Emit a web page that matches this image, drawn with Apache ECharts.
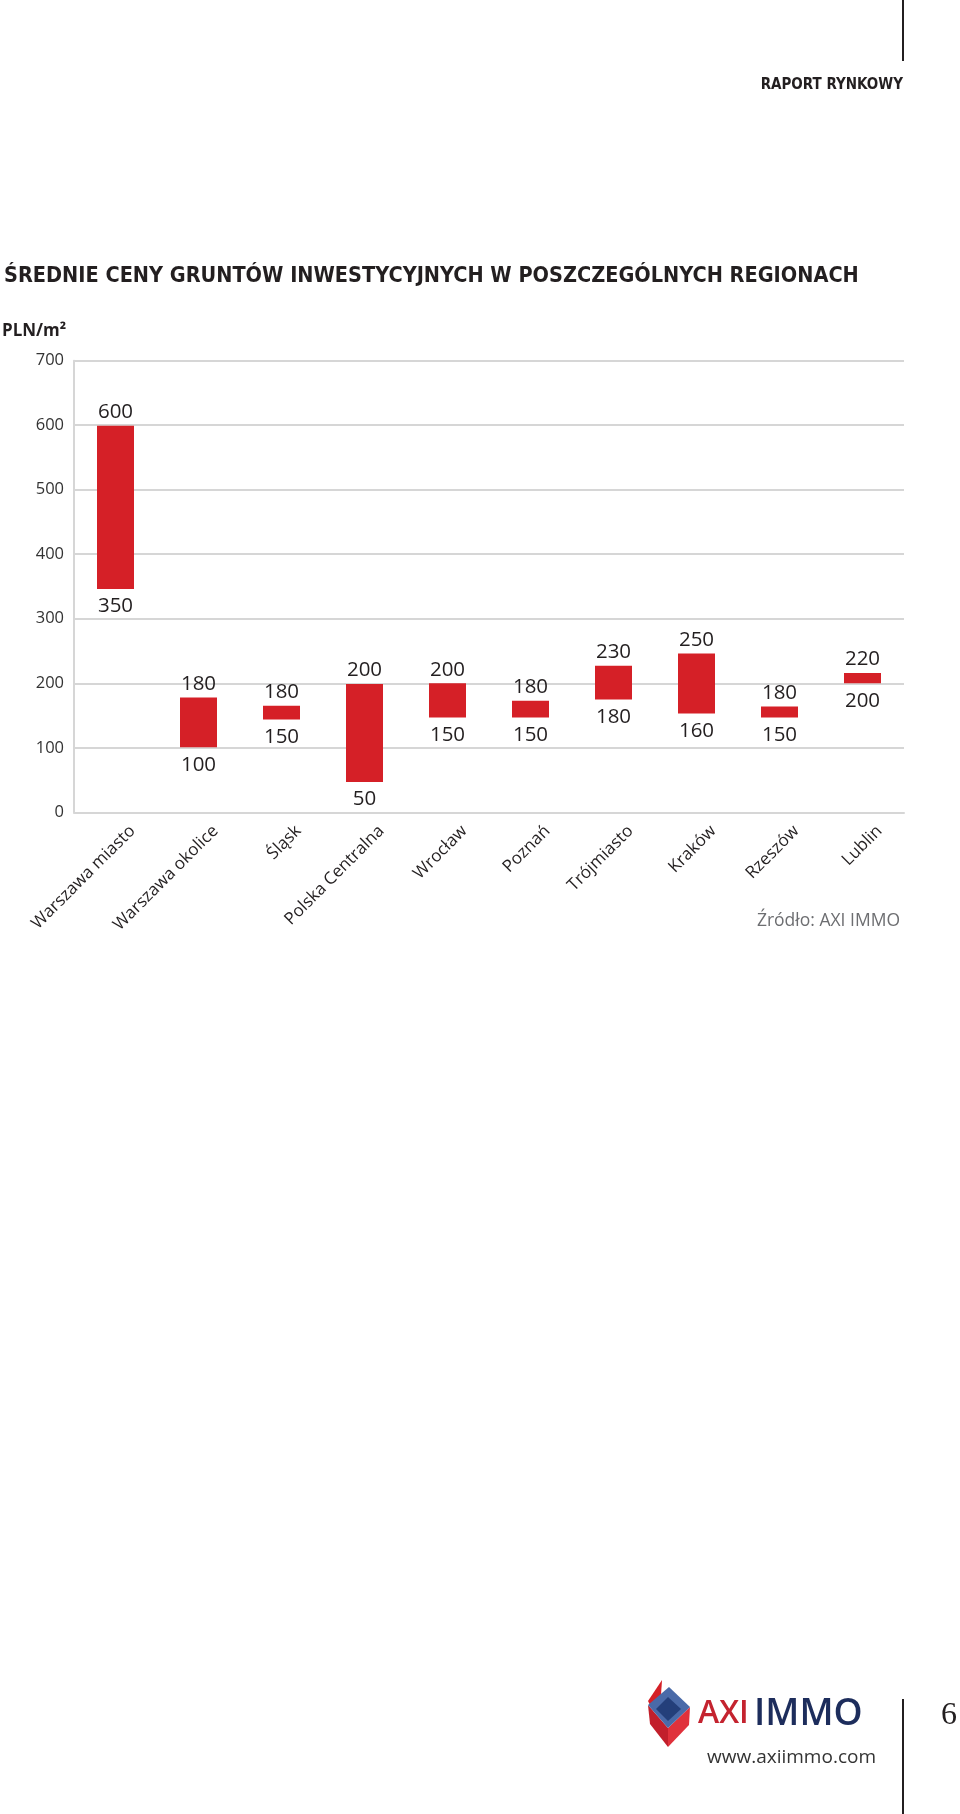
<!DOCTYPE html>
<html><head><meta charset="utf-8">
<script src="https://cdn.jsdelivr.net/npm/echarts@6/dist/echarts.min.js"></script>
<style>html,body{margin:0;padding:0;background:#fff}#c{width:960px;height:1814px}</style>
</head><body><div id="c"></div>
<script>
// --- data ---
const categories = ['Warszawa miasto','Warszawa okolice','Śląsk','Polska Centralna','Wrocław','Poznań','Trójmiasto','Kraków','Rzeszów','Lublin'];
// bar extents as drawn in the reference (PLN/m²)
const barLow  = [346, 101, 144,  47, 147, 147, 175, 153, 147, 200];
const barHigh = [599, 178, 165, 199, 200, 173, 227, 246, 164, 216];
// printed value labels
const labelLow  = [350, 100, 150,  50, 150, 150, 180, 160, 150, 200];
const labelHigh = [600, 180, 180, 200, 200, 180, 230, 250, 180, 220];
const yMin = 0, yMax = 700, yStep = 100;

const RED = '#d52027', INK = '#231f20', GRID = '#d6d6d6';
const SANS = "'Open Sans', 'Noto Sans', sans-serif";
const COND = "'Liberation Sans Narrow', 'DejaVu Sans Condensed', 'Roboto Condensed', 'Noto Sans', sans-serif";

const rangeData = barHigh.map((h, i) => h - barLow[i]);

const chart = echarts.init(document.getElementById('c'), null, {renderer: 'canvas'});
chart.setOption({
  animation: false,
  backgroundColor: '#fff',
  title: {
    text: 'ŚREDNIE CENY GRUNTÓW INWESTYCYJNYCH W POSZCZEGÓLNYCH REGIONACH',
    left: 4, top: 265, padding: 0,
    textStyle: {fontFamily: COND, fontWeight: 'bold', fontSize: 21.5, color: INK}
  },
  grid: {left: 74, right: 56, top: 360.67, bottom: 1001.67, containLabel: false},
  xAxis: {
    type: 'category', data: categories,
    axisTick: {show: false},
    axisLine: {lineStyle: {color: GRID, width: 2}},
    axisLabel: {rotate: 45, interval: 0, fontSize: 17, color: INK, fontFamily: SANS,
      margin: 33, padding: [0, -24, 0, 0]}
  },
  yAxis: {
    type: 'value', min: yMin, max: yMax, interval: yStep,
    axisLine: {show: true, lineStyle: {color: GRID, width: 2}},
    axisTick: {show: false},
    splitLine: {lineStyle: {color: GRID, width: 2}},
    axisLabel: {fontSize: 16.5, color: '#333', fontFamily: SANS, margin: 10}
  },
  series: [
    {
      name: 'base', type: 'bar', stack: 'r', data: barLow, barWidth: 37,
      itemStyle: {color: 'rgba(0,0,0,0)'},
      label: {show: true, position: 'insideTop', distance: 7, fontSize: 20.5, color: INK, fontFamily: SANS,
        formatter: p => String(labelLow[p.dataIndex])},
      silent: true
    },
    {
      name: 'Cena PLN/m²', type: 'bar', stack: 'r', data: rangeData, barWidth: 37,
      itemStyle: {color: RED},
      label: {show: true, position: 'top', distance: 3, fontSize: 20.5, color: INK, fontFamily: SANS,
        formatter: p => String(labelHigh[p.dataIndex])}
    }
  ],
  graphic: [
    {type: 'line', shape: {x1: 903, y1: 0, x2: 903, y2: 61}, style: {stroke: INK, lineWidth: 2}},
    {type: 'text', x: 903, y: 85, style: {text: 'RAPORT RYNKOWY', textAlign: 'right', textVerticalAlign: 'middle',
      font: "bold 15px " + COND, fill: INK}},
    {type: 'text', x: 2, y: 331, style: {text: 'PLN/m²', textAlign: 'left', textVerticalAlign: 'middle',
      font: "bold 17px " + SANS, fill: INK}},
    {type: 'text', x: 900, y: 921, style: {text: 'Źródło: AXI IMMO', textAlign: 'right', textVerticalAlign: 'middle',
      font: "17.5px " + SANS, fill: '#6d6e71'}},
    // logo icon
    {type: 'polygon', shape: {points: [[662,1680],[661,1695],[650,1705],[648,1701]]}, style: {fill: '#d52027'}},
    {type: 'polygon', shape: {points: [[648,1705],[668,1728],[668,1747],[650,1724]]}, style: {fill: '#c21f2b'}},
    {type: 'polygon', shape: {points: [[668,1728],[690,1707],[689,1725],[668,1747]]}, style: {fill: '#e0313b'}},
    {type: 'polygon', shape: {points: [[669,1687],[690,1707],[668,1728],[648,1705]]}, style: {fill: '#4a6aa8'}},
    {type: 'polygon', shape: {points: [[668,1697],[681,1709],[668,1721],[656,1709]]}, style: {fill: '#243f7a'}},
    {type: 'text', x: 698, y: 1714, style: {text: 'AXI', textAlign: 'left', textVerticalAlign: 'middle',
      font: "600 32px " + SANS, fill: '#c4232f'}},
    {type: 'text', x: 754, y: 1714, style: {text: 'IMMO', textAlign: 'left', textVerticalAlign: 'middle',
      font: "600 37px " + SANS, fill: '#1d2d5c'}},
    {type: 'text', x: 876, y: 1758, style: {text: 'www.axiimmo.com', textAlign: 'right', textVerticalAlign: 'middle',
      font: "19px " + SANS, fill: '#333'}},
    {type: 'line', shape: {x1: 903, y1: 1699, x2: 903, y2: 1814}, style: {stroke: INK, lineWidth: 2}},
    {type: 'text', x: 941, y: 1716, style: {text: '6', textAlign: 'left', textVerticalAlign: 'middle',
      font: "32px 'Liberation Serif', 'DejaVu Serif', serif", fill: INK}}
  ]
});
</script></body></html>
